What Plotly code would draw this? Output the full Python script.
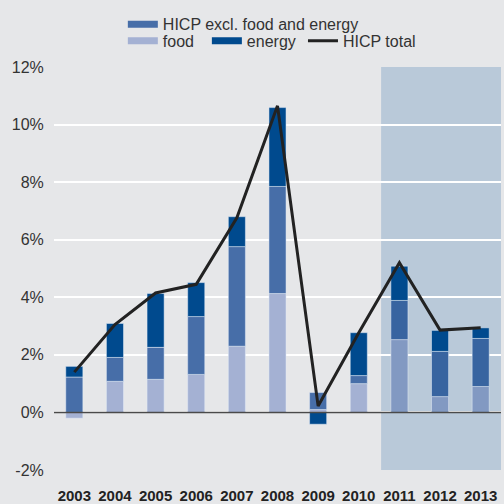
import plotly.graph_objects as go

years = ["2003", "2004", "2005", "2006", "2007", "2008", "2009", "2010", "2011", "2012", "2013"]
food = [-0.2, 1.08, 1.15, 1.32, 2.30, 4.13, 0.10, 1.00, 2.53, 0.55, 0.90]
core = [1.23, 0.83, 1.11, 2.01, 3.46, 3.72, 0.59, 0.28, 1.36, 1.57, 1.67]
energy = [0.37, 1.18, 1.87, 1.18, 1.04, 2.74, -0.41, 1.49, 1.19, 0.73, 0.37]
total = [1.4, 3.05, 4.15, 4.45, 6.76, 10.65, 0.22, 2.77, 5.2, 2.86, 2.94]
y_ticks = [-2, 0, 2, 4, 6, 8, 10, 12]
y_labels = ["-2%", "0%", "2%", "4%", "6%", "8%", "10%", "12%"]
forecast_from = "2011"

# colours: actual years / projection years (under the shaded band)
col_food = ("#a4b1d3", "#8299c2")
col_core = ("#476ea8", "#3864a0")
col_energy = ("#004a8e", "#004a8e")


def colours(pair):
    return [pair[1] if y >= forecast_from else pair[0] for y in years]


fig = go.Figure()
fig.add_trace(go.Bar(x=years, y=food, marker_color=colours(col_food), width=0.42,
                     showlegend=False, name="food"))
fig.add_trace(go.Bar(x=years, y=core, marker_color=colours(col_core), width=0.42,
                     showlegend=False, name="HICP excl. food and energy"))
fig.add_trace(go.Bar(x=years, y=energy, marker_color=colours(col_energy), width=0.42,
                     showlegend=False, name="energy"))
fig.add_trace(go.Scatter(x=years, y=total, mode="lines", line=dict(color="#222222", width=3),
                         showlegend=False, name="HICP total"))

# legend entries (wide swatches like the original), one legend box each so they sit where the original has them
fig.add_trace(go.Scatter(x=[None], y=[None], mode="lines", line=dict(color=col_core[0], width=7),
                         name="HICP excl. food and energy", legend="legend"))
fig.add_trace(go.Scatter(x=[None], y=[None], mode="lines", line=dict(color=col_food[0], width=7),
                         name="food", legend="legend2"))
fig.add_trace(go.Scatter(x=[None], y=[None], mode="lines", line=dict(color=col_energy[0], width=7),
                         name="energy", legend="legend3"))
fig.add_trace(go.Scatter(x=[None], y=[None], mode="lines", line=dict(color="#222222", width=3),
                         name="HICP total", legend="legend4"))

fig.add_shape(type="rect", xref="x", yref="paper", x0=7.55, x1=10.5, y0=0, y1=1,
              fillcolor="#b9c9d9", line_width=0, layer="below")
fig.add_shape(type="line", xref="paper", yref="y", x0=0, x1=1, y0=0, y1=0,
              line=dict(color="#4a4a4a", width=1.5), layer="above")

legend_style = dict(orientation="h", xanchor="left", yanchor="middle", bgcolor="rgba(0,0,0,0)",
                    font=dict(size=16, color="#333333"), itemclick=False)
fig.update_layout(
    width=504, height=504,
    margin=dict(l=54, r=3, t=67, b=34),
    paper_bgcolor="#e6e7e9", plot_bgcolor="#e6e7e9",
    font=dict(family="Liberation Sans, Arial, sans-serif", color="#333333"),
    barmode="relative", bargap=0.5,
    legend=dict(x=0.154, y=1.106, **legend_style),
    legend2=dict(x=0.154, y=1.065, **legend_style),
    legend3=dict(x=0.342, y=1.065, **legend_style),
    legend4=dict(x=0.557, y=1.065, **legend_style),
    xaxis=dict(range=[-0.5, 10.5], showgrid=False, zeroline=False, showline=False,
               ticks="outside", ticklen=12, tickcolor="rgba(0,0,0,0)", automargin=False,
               tickfont=dict(size=15, color="#222222", family="Liberation Sans, Arial, sans-serif",
                             weight="bold")),
    yaxis=dict(range=[-2, 12], tickmode="array", tickvals=y_ticks, ticktext=y_labels,
               showgrid=True, gridcolor="#ffffff", gridwidth=1.5, zeroline=False, showline=False,
               ticks="outside", ticklen=6, tickcolor="rgba(0,0,0,0)", automargin=False,
               tickfont=dict(size=16, color="#333333")),
)

fig.write_html("out.html", config={"displayModeBar": False},
               post_script="document.body.style.margin='0';")
